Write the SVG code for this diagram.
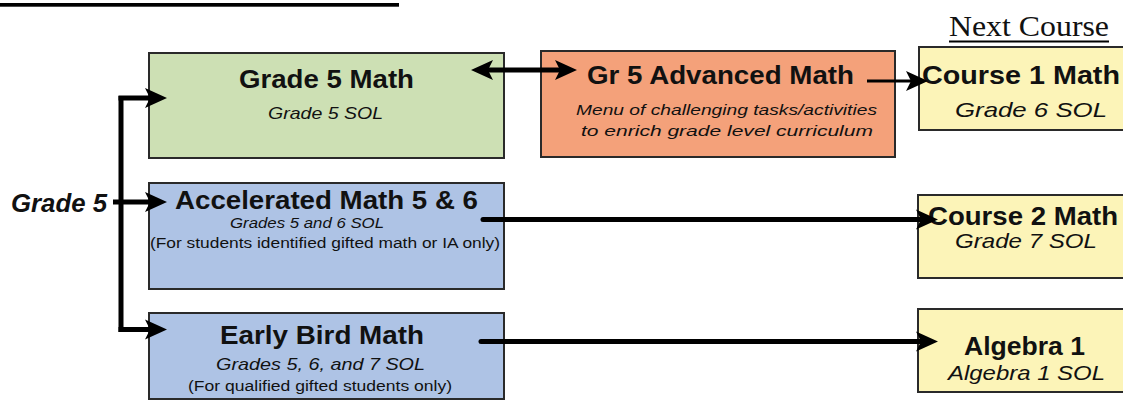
<svg xmlns="http://www.w3.org/2000/svg" width="1123" height="400" viewBox="0 0 1123 400">
<style>
.box{stroke:#2a2a2a;stroke-width:2}
.green{fill:#cde0b4}
.salmon{fill:#f4a17a}
.blue{fill:#aec3e5}
.yellow{fill:#fcf4b8}
text{font-family:"Liberation Sans",Arial,sans-serif;fill:#111}
.t{font-weight:bold;font-size:26px}
.s{font-style:italic}
.n{font-size:14px}
.serif{font-family:"Liberation Serif","Times New Roman",serif;font-size:30px}
.c{fill:none;stroke:#000;stroke-width:5}
.thin{stroke-width:3}
</style>
<defs>
<marker id="ah" markerUnits="userSpaceOnUse" markerWidth="24" markerHeight="22" viewBox="0 0 24 22" refX="10" refY="11" orient="auto-start-reverse">
<path d="M0,1 L22,11 L0,21 L5,11 z" fill="#000"/>
</marker>
</defs>
<rect x="0" y="3" width="399" height="3.7" fill="#000"/>
<g id="next-course">
<text class="serif" x="949" y="36" textLength="160" lengthAdjust="spacingAndGlyphs">Next Course</text>
<rect x="949" y="40.5" width="160" height="2" fill="#000"/>
</g>
<g id="grade5-label">
<text class="t s" style="font-size:25px" x="11" y="212" textLength="96" lengthAdjust="spacingAndGlyphs">Grade 5</text>
</g>
<g id="grade5-math">
<rect class="box green" x="149" y="53" width="355" height="105"/>
<text class="t" x="239" y="88" textLength="175" lengthAdjust="spacingAndGlyphs">Grade 5 Math</text>
<text class="s" style="font-size:17px" x="268" y="119" textLength="115" lengthAdjust="spacingAndGlyphs">Grade 5 SOL</text>
</g>
<g id="gr5-advanced">
<rect class="box salmon" x="541" y="51" width="354" height="106"/>
<text class="t" style="font-size:25px" x="587" y="84" textLength="267" lengthAdjust="spacingAndGlyphs">Gr 5 Advanced Math</text>
<text class="s" style="font-size:15px" x="576" y="115" textLength="301" lengthAdjust="spacingAndGlyphs">Menu of challenging tasks/activities</text>
<text class="s" style="font-size:15px" x="581" y="136" textLength="292" lengthAdjust="spacingAndGlyphs">to enrich grade level curriculum</text>
</g>
<g id="course1">
<rect class="box yellow" x="919" y="47" width="215" height="83"/>
<text class="t" x="922" y="84" textLength="198" lengthAdjust="spacingAndGlyphs">Course 1 Math</text>
<text class="s" style="font-size:21px" x="955" y="117" textLength="152" lengthAdjust="spacingAndGlyphs">Grade 6 SOL</text>
</g>
<g id="accelerated">
<rect class="box blue" x="149" y="183" width="355" height="106"/>
<text class="t" style="font-size:25px" x="175" y="209" textLength="303" lengthAdjust="spacingAndGlyphs">Accelerated Math 5 &amp; 6</text>
<text class="s" style="font-size:14.5px" x="230" y="227.5" textLength="154" lengthAdjust="spacingAndGlyphs">Grades 5 and 6 SOL</text>
<text class="n" x="150" y="247.5" textLength="350" lengthAdjust="spacingAndGlyphs">(For students identified gifted math or IA only)</text>
</g>
<g id="course2">
<rect class="box yellow" x="918" y="195" width="216" height="83"/>
<text class="t" x="928" y="225" textLength="190" lengthAdjust="spacingAndGlyphs">Course 2 Math</text>
<text class="s" style="font-size:21px" x="955" y="248" textLength="142" lengthAdjust="spacingAndGlyphs">Grade 7 SOL</text>
</g>
<g id="early-bird">
<rect class="box blue" x="149" y="313" width="355" height="86"/>
<text class="t" x="220" y="344" textLength="204" lengthAdjust="spacingAndGlyphs">Early Bird Math</text>
<text class="s" style="font-size:17px" x="216" y="370" textLength="209" lengthAdjust="spacingAndGlyphs">Grades 5, 6, and 7 SOL</text>
<text class="n" x="188" y="391" textLength="264" lengthAdjust="spacingAndGlyphs">(For qualified gifted students only)</text>
</g>
<g id="algebra1">
<rect class="box yellow" x="918" y="309" width="216" height="83"/>
<text class="t" style="font-size:25px" x="964" y="355" textLength="121" lengthAdjust="spacingAndGlyphs">Algebra 1</text>
<text class="s" style="font-size:21px" x="948" y="380" textLength="157" lengthAdjust="spacingAndGlyphs">Algebra 1 SOL</text>
</g>
<g id="connectors">
<path class="c" d="M121,96 V332"/>
<path class="c" d="M118.5,98 H155" marker-end="url(#ah)"/>
<path class="c" d="M113,202 H155" marker-end="url(#ah)"/>
<path class="c" d="M118.5,329.5 H155" marker-end="url(#ah)"/>
<path class="c" d="M483,70 H565" marker-start="url(#ah)" marker-end="url(#ah)"/>
<path class="c thin" d="M867,81 H916" marker-end="url(#ah)"/>
<path class="c" stroke-linecap="round" d="M483,219.5 H926" marker-end="url(#ah)"/>
<path class="c" stroke-linecap="round" d="M481,341.5 H926" marker-end="url(#ah)"/>
</g>
</svg>
